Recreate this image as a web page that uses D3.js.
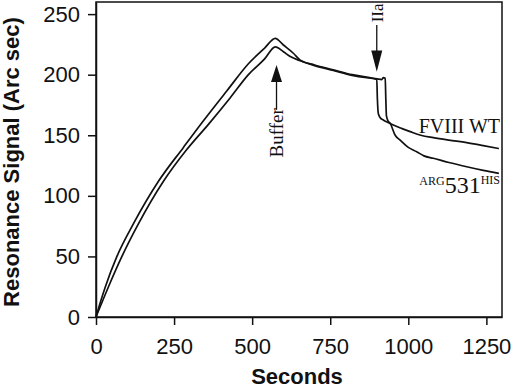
<!DOCTYPE html>
<html>
<head>
<meta charset="UTF-8">
<script src="https://d3js.org/d3.v7.min.js"></script>
<style>
  body { margin: 0; background: #fff; }
  .axis text { font-family: Arial, "Liberation Sans", Helvetica, sans-serif; font-size: 22px; fill: #111; }
  .axis path, .axis line { stroke: #111; stroke-width: 1.5px; }
  .curve { fill: none; stroke: #111; stroke-width: 1.7px; stroke-linejoin: round; }
  .serif { font-family: "Times New Roman", "Liberation Serif", Times, serif; fill: #111; }
  .title { font-family: Arial, "Liberation Sans", Helvetica, sans-serif; font-weight: bold; font-size: 22px; fill: #111; }
</style>
</head>
<body>
<svg width="520" height="388"></svg>
<script>
// time (s) and response (arc sec)
var wtTime = [0, 15, 30, 67, 120, 200, 280, 344, 420, 488, 540, 574, 600, 632, 654, 700, 760, 820, 867, 899,
              901, 904, 910, 920, 935, 952, 980, 1006, 1040, 1080, 1130, 1187, 1240, 1290];
var wtSignal = [0, 13, 25, 50, 77, 112, 140, 162, 187, 209, 222, 230, 224.5, 217.7, 212, 208, 204, 200, 198, 196,
                180, 168, 164.5, 162.6, 160.5, 158.4, 155.5, 153, 150, 148, 146, 144, 141.5, 139];

var argTime = [0, 40, 83, 134, 216, 290, 360, 430, 488, 540, 574, 600, 622, 654, 700, 760, 820, 867, 900, 915,
               920, 926, 928, 930, 935, 942, 958, 974, 1000, 1027, 1050, 1080, 1130, 1187, 1240, 1290];
var argSignal = [0, 25, 50, 76, 112, 138, 159, 181, 200, 213, 223, 219, 215, 211.5, 207.5, 203.5, 199.5, 197.5, 196.5, 196,
                 197.5, 197, 180, 166, 162, 159.8, 150, 146, 140, 136.4, 133, 131, 127.5, 124, 121, 118.5];

var xTicks = [0, 250, 500, 750, 1000, 1250];
var yTicks = [0, 50, 100, 150, 200, 250];

var svg = d3.select('svg'),
    margin = { top: 2, left: 96 },
    width = 406,
    height = 315,
    g = svg.append('g').attr('transform', 'translate(' + margin.left + ',' + margin.top + ')');

var x = d3.scaleLinear().domain([0, 1300]).range([0, width]),
    y = d3.scaleLinear().domain([0, 260]).range([height, 0]);

var line = d3.line()
    .curve(d3.curveMonotoneX)
    .x(function(d) { return x(d[0]); })
    .y(function(d) { return y(d[1]); });

// frame
g.append('rect')
    .attr('width', width).attr('height', height)
    .attr('fill', 'none').attr('stroke', '#111').attr('stroke-width', 1.5);

g.append('g')
    .attr('class', 'axis')
    .attr('transform', 'translate(0,' + height + ')')
    .call(d3.axisBottom(x).tickValues(xTicks).tickFormat(d3.format('d')).tickSize(8).tickPadding(13).tickSizeOuter(0));

g.append('g')
    .attr('class', 'axis')
    .call(d3.axisLeft(y).tickValues(yTicks).tickFormat(d3.format('d')).tickSize(8).tickPadding(8).tickSizeOuter(0));

g.append('path')
    .attr('class', 'curve')
    .attr('d', line(d3.zip(wtTime, wtSignal)));

g.append('path')
    .attr('class', 'curve')
    .attr('d', line(d3.zip(argTime, argSignal)));

// Buffer arrow (points up)
var bx = x(578);
g.append('line').attr('x1', bx).attr('x2', bx).attr('y1', y(196)).attr('y2', y(171))
    .attr('stroke', '#111').attr('stroke-width', 1.3);
g.append('path')
    .attr('d', 'M' + bx + ',' + y(208) + 'L' + (bx - 5.5) + ',' + y(194) + 'L' + (bx + 5.5) + ',' + y(194) + 'Z')
    .attr('fill', '#111');
g.append('text')
    .attr('class', 'serif')
    .attr('transform', 'translate(' + (bx + 6) + ',' + y(152) + ') rotate(-90)')
    .attr('text-anchor', 'middle')
    .style('font-size', '19px')
    .text('Buffer');

// IIa arrow (points down)
var ix = x(899);
g.append('line').attr('x1', ix).attr('x2', ix).attr('y1', y(241)).attr('y2', y(218))
    .attr('stroke', '#111').attr('stroke-width', 1.3);
g.append('path')
    .attr('d', 'M' + ix + ',' + y(202.5) + 'L' + (ix - 5.5) + ',' + y(220) + 'L' + (ix + 5.5) + ',' + y(220) + 'Z')
    .attr('fill', '#111');
g.append('text')
    .attr('class', 'serif')
    .attr('transform', 'translate(' + (ix + 6) + ',' + y(251) + ') rotate(-90)')
    .attr('text-anchor', 'middle')
    .style('font-size', '17px')
    .text('IIa');

// series labels
g.append('text')
    .attr('class', 'serif')
    .attr('x', width - 2).attr('y', y(151.5))
    .attr('text-anchor', 'end')
    .style('font-size', '20px')
    .text('FVIII WT');

var arg = g.append('text')
    .attr('class', 'serif')
    .attr('x', width - 2).attr('y', y(102))
    .attr('text-anchor', 'end');
arg.append('tspan').style('font-size', '12px').attr('dy', -8).text('ARG');
arg.append('tspan').style('font-size', '24px').attr('dy', 8).text('531');
arg.append('tspan').style('font-size', '12px').attr('dy', -9).text('HIS');

// axis titles
svg.append('text')
    .attr('class', 'title')
    .attr('x', 297).attr('y', 384)
    .attr('text-anchor', 'middle')
    .text('Seconds');

svg.append('text')
    .attr('class', 'title')
    .attr('transform', 'translate(19,162) rotate(-90)')
    .attr('text-anchor', 'middle')
    .text('Resonance Signal (Arc sec)');
</script>
</body>
</html>
